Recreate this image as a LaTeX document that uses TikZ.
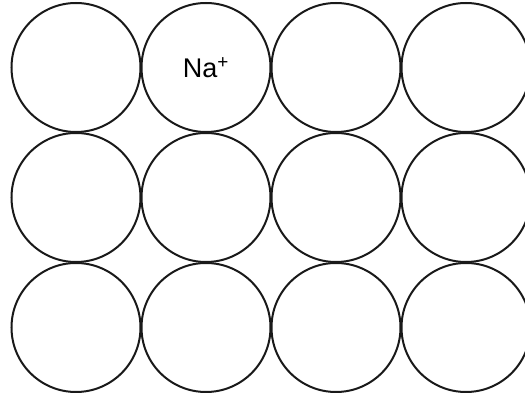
\documentclass[tikz,border=0pt]{standalone}
\usepackage{fontspec}
\setmainfont{Liberation Sans}
\begin{document}
\begin{tikzpicture}[x=1pt,y=1pt,
  ion/.style={circle,draw=black!90,line width=2pt,minimum size=129pt,inner sep=0pt,font=\fontsize{27}{30}\selectfont}]
\useasboundingbox (0,0) rectangle (525,396);
\begin{scope}
\clip (0,0) rectangle (525,396);
\foreach \r/\y in {1/328.5,2/198.5,3/68.5}{
  \foreach \c/\x in {1/76,2/206,3/336,4/466}{
    \ifnum\r=1 \ifnum\c=2
      \node[ion] (c\r\c) at (\x,\y) {Na\textsuperscript{+}};
    \else
      \node[ion] (c\r\c) at (\x,\y) {};
    \fi\else
      \node[ion] (c\r\c) at (\x,\y) {};
    \fi
  }
}
\end{scope}
\end{tikzpicture}
\end{document}
